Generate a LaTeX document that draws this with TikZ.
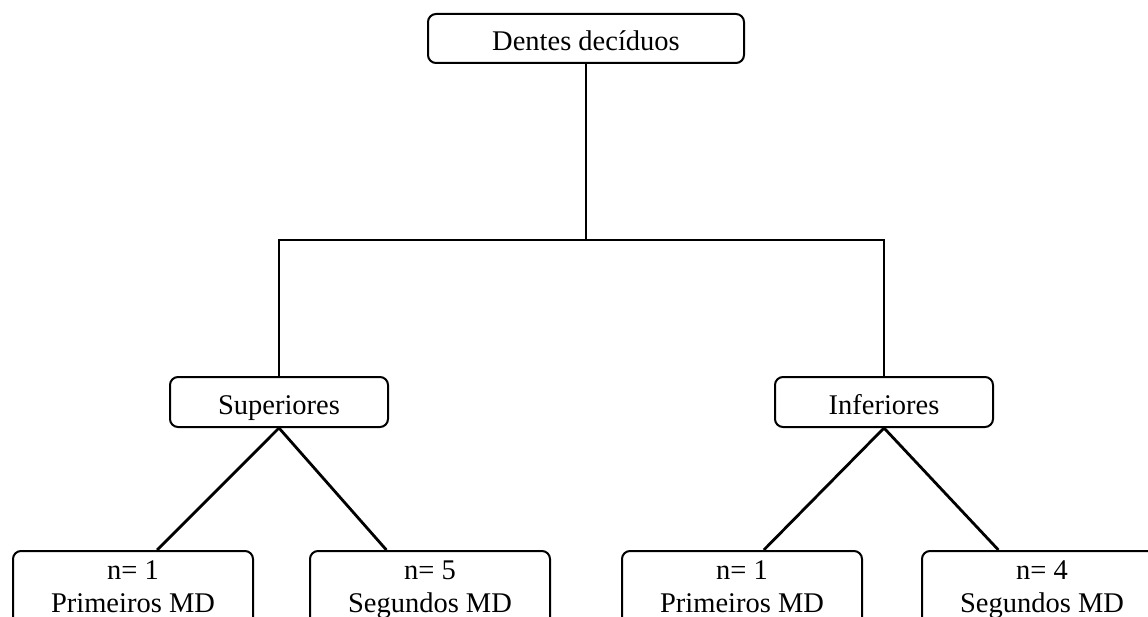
\documentclass[tikz,border=0pt]{standalone}
\usepackage{fontspec}
\setmainfont{Liberation Serif}
\usepackage{tikz}
\usetikzlibrary{positioning,calc}
\tikzset{
  caixa/.style={draw, line width=2pt, rounded corners=8pt, inner sep=0pt,
    font=\fontsize{28.5}{33}\selectfont, text height=26pt, text depth=2pt},
  folha/.style={caixa, anchor=north, align=center, inner ysep=10pt,
    minimum width=240, text height=, text depth=30pt},
  ramo/.style={line width=2.8pt}
}
\begin{document}
\begin{tikzpicture}[x=1pt,y=-1pt]
            \useasboundingbox (0,0) rectangle (1148,617);
            \clip (0,0) rectangle (1148,617);

            %Nodes
            \node[caixa, minimum width=316, minimum height=49] at (586,38.5) (dec) {Dentes decíduos};
            \node[caixa, minimum width=218, minimum height=50] at (279,402) (sup) {Superiores};
            \node[caixa, minimum width=218, minimum height=50] at (884,402) (inf) {Inferiores};
            \node[folha] at (133,550) (sup1) {n= 1\\Primeiros MD};
            \node[folha] at (430,550) (sup2) {n= 5\\Segundos MD};
            \node[folha] at (742,550) (inf1) {n= 1\\Primeiros MD};
            \node[folha] at (1042,550) (inf2) {n= 4\\Segundos MD};

            %Lines
            \draw[ramo] (dec.south) -- ++(0,176) coordinate (fork);
            \draw[ramo] (sup.north) |- (fork) -| (inf.north);
            \draw[ramo] (sup.south) -- ($(sup1.north west)!0.6!(sup1.north east)$);
            \draw[ramo] (sup.south) -- ($(sup2.north west)!0.32!(sup2.north east)$);
            \draw[ramo] (inf.south) -- ($(inf1.north west)!0.59!(inf1.north east)$);
            \draw[ramo] (inf.south) -- ($(inf2.north west)!0.32!(inf2.north east)$);
        \end{tikzpicture}
\end{document}
